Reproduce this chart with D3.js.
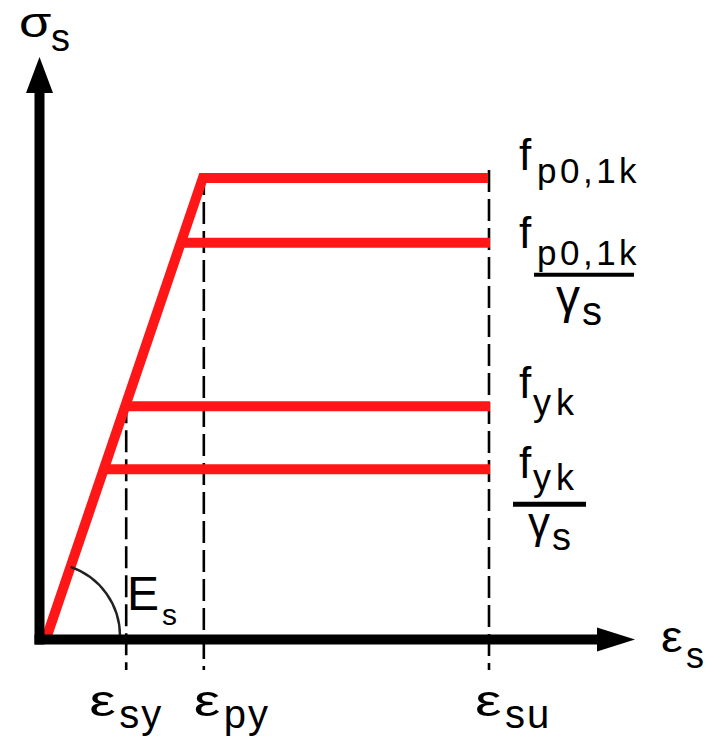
<!DOCTYPE html>
<html>
<head>
<meta charset="utf-8">
<script src="https://cdn.jsdelivr.net/npm/d3@7"></script>
<style>
  body { margin: 0; background: #fff; }
  text { font-family: "Liberation Sans", Arial, sans-serif; fill: #000; }
</style>
</head>
<body>
<svg id="chart" width="721" height="744"></svg>
<script>
// Idealised stress-strain diagram for reinforcing and prestressing steel
// (schematic units, no numeric ticks are shown).

// strain markers on the horizontal axis
const strainSubs   = ["sy", "py", "su"];
const strainValues = [2.66, 5.3, 15.0];

// plateau stresses: f_p0,1k, f_p0,1k/γs, f_yk, f_yk/γs
const plateauKeys   = ["fp", "fpd", "fy", "fyd"];
const plateauStress = [79.1, 67.9, 39.7, 28.8];

// slope of the elastic branch (E_s)
const elasticModulus = 14.92;

// axis extents
const strainMax = 20;
const stressMax = 100;

const svg = d3.select("#chart");
const red = "#ff1616";

const x = d3.scaleLinear().domain([0, strainMax]).range([47, 635]);
const y = d3.scaleLinear().domain([0, stressMax]).range([636, 57]);

const axisX = x(0) - 7.5;   // centre line of the vertical axis
const axisY = y(0) + 3.5;   // centre line of the horizontal axis
const epsSu = strainValues[2];

// ---- dashed strain guides ----
const guideTops = [plateauStress[2], plateauStress[0], plateauStress[0]];
svg.append("g")
  .selectAll("line")
  .data(strainValues)
  .join("line")
  .attr("x1", d => x(d) + 1)
  .attr("x2", d => x(d) + 1)
  .attr("y1", (d, i) => y(guideTops[i]) - (i === 2 ? 8 : 5))
  .attr("y2", y(0) + 34)
  .attr("stroke", "#000")
  .attr("stroke-width", 2.6)
  .attr("stroke-dasharray", "22,7");

// ---- elastic branch + top plateau as one path ----
const topStress = plateauStress[0];
svg.append("path")
  .attr("d", d3.line()([
    [x(0), y(0)],
    [x(topStress / elasticModulus), y(topStress)],
    [x(epsSu), y(topStress)]
  ]))
  .attr("fill", "none")
  .attr("stroke", red)
  .attr("stroke-width", 10)
  .attr("stroke-linejoin", "miter");

// ---- remaining plateaus ----
svg.append("g")
  .selectAll("line")
  .data(plateauStress.slice(1))
  .join("line")
  .attr("x1", d => x(d / elasticModulus))
  .attr("x2", x(epsSu) + 2)
  .attr("y1", d => y(d))
  .attr("y2", d => y(d))
  .attr("stroke", red)
  .attr("stroke-width", 10);

// ---- angle arc for E_s ----
const ang = Math.atan2(y(topStress) - y(0), x(topStress / elasticModulus) - x(0));
const r = 73;
const arc = d3.path();
arc.moveTo(x(0) + r * Math.cos(ang), y(0) + r * Math.sin(ang));
arc.arc(x(0), y(0), r, ang, 0);
svg.append("path")
  .attr("d", arc.toString())
  .attr("fill", "none")
  .attr("stroke", "#222")
  .attr("stroke-width", 2.4);

// ---- axes with arrowheads ----
svg.append("line")
  .attr("x1", axisX).attr("x2", axisX)
  .attr("y1", axisY + 5).attr("y2", y(stressMax) + 34)
  .attr("stroke", "#000").attr("stroke-width", 10);
svg.append("line")
  .attr("x1", axisX - 5).attr("x2", x(strainMax) - 36)
  .attr("y1", axisY).attr("y2", axisY)
  .attr("stroke", "#000").attr("stroke-width", 10);
svg.append("path")
  .attr("d", `M${axisX},${y(stressMax)} L${axisX - 13.5},${y(stressMax) + 36} L${axisX + 13.5},${y(stressMax) + 36} Z`)
  .attr("fill", "#000");
svg.append("path")
  .attr("d", `M${x(strainMax)},${axisY} L${x(strainMax) - 38},${axisY - 12} L${x(strainMax) - 38},${axisY + 12} Z`)
  .attr("fill", "#000");

// ---- text helper (sx widens a glyph horizontally) ----
function label(parts) {
  const g = svg.append("g");
  parts.forEach(p => {
    g.append("text")
      .attr("transform", `translate(${p.x},${p.y}) scale(${p.sx || 1},1)`)
      .attr("font-size", p.size)
      .attr("letter-spacing", p.ls || 0)
      .text(p.t);
  });
  return g;
}
function bar(x1, x2, yy, w) {
  svg.append("line")
    .attr("x1", x1).attr("x2", x2).attr("y1", yy).attr("y2", yy)
    .attr("stroke", "#000").attr("stroke-width", w);
}

// axis titles
label([{ t: "σ", x: 19, y: 37, size: 42, sx: 1.25 }, { t: "s", x: 51, y: 51, size: 38 }]);
label([{ t: "ε", x: 661, y: 652, size: 44, sx: 1.1 }, { t: "s", x: 686, y: 668, size: 36 }]);

// plateau labels
const lx = x(epsSu) + 31;
label([{ t: "f", x: lx, y: y(plateauStress[0]) - 8, size: 44 },
       { t: "p0,1k", x: lx + 18, y: y(plateauStress[0]) + 5, size: 35, ls: 3.5 }]);
label([{ t: "f", x: lx, y: y(plateauStress[1]) + 5, size: 44 },
       { t: "p0,1k", x: lx + 18, y: y(plateauStress[1]) + 22, size: 35, ls: 3.5 }]);
bar(lx + 15, lx + 115, y(plateauStress[1]) + 32, 4);
label([{ t: "γ", x: lx + 37, y: y(plateauStress[1]) + 70, size: 48 },
       { t: "s", x: lx + 63, y: y(plateauStress[1]) + 82, size: 40 }]);

label([{ t: "f", x: lx, y: y(plateauStress[2]) - 8, size: 44 },
       { t: "yk", x: lx + 14, y: y(plateauStress[2]) + 9, size: 36, ls: 5 }]);
label([{ t: "f", x: lx, y: y(plateauStress[3]) + 9, size: 44 },
       { t: "yk", x: lx + 14, y: y(plateauStress[3]) + 21, size: 36, ls: 5 }]);
bar(lx - 6, lx + 67, y(plateauStress[3]) + 35, 5);
label([{ t: "γ", x: lx + 9, y: y(plateauStress[3]) + 69, size: 44 },
       { t: "s", x: lx + 33, y: y(plateauStress[3]) + 81, size: 38 }]);

// modulus label
label([{ t: "E", x: 127, y: 610, size: 48 }, { t: "s", x: 162, y: 625, size: 30 }]);

// strain labels under the axis
const epsOffsets = [-36, -9, -13];
strainValues.forEach((v, i) => {
  const gx = x(v) + epsOffsets[i];
  label([{ t: "ε", x: gx, y: 716, size: 44, sx: 1.35 },
         { t: strainSubs[i], x: gx + 30, y: 728, size: 40, ls: 2 }]);
});
</script>
</body>
</html>
